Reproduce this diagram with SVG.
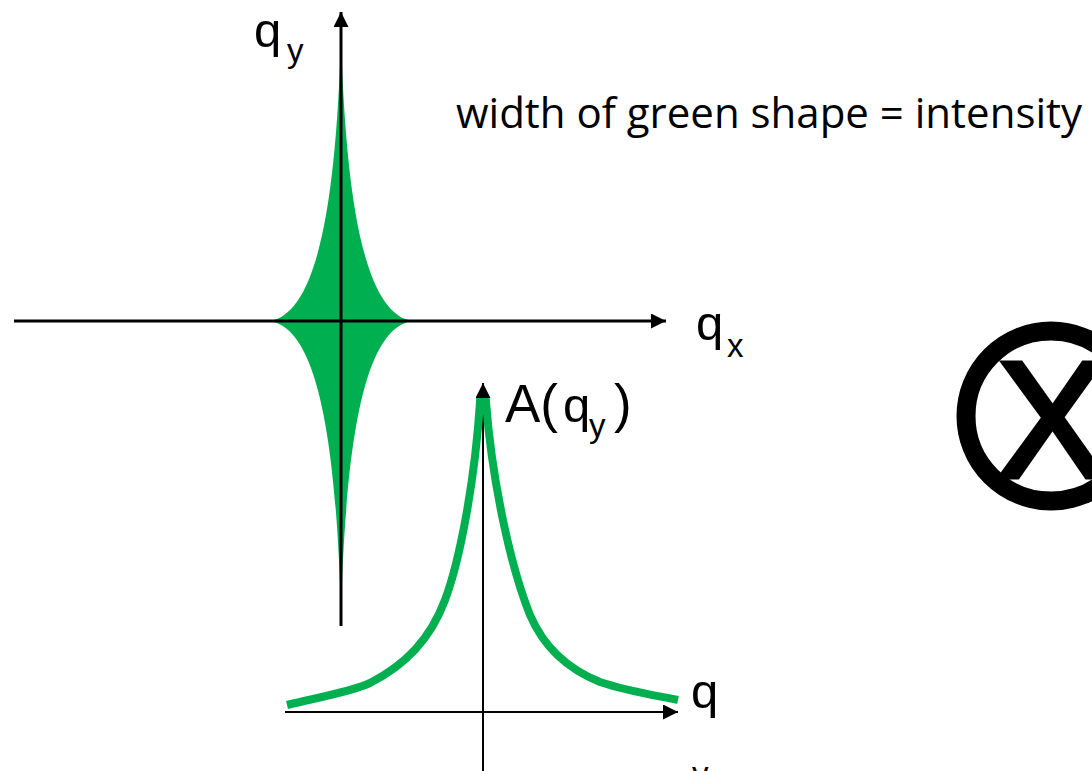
<svg xmlns="http://www.w3.org/2000/svg" width="1092" height="771" viewBox="0 0 1092 771">
<style>
.ax{stroke:#000;fill:none}
.lbl{font-family:"Liberation Sans",Arial,sans-serif;fill:#000}
</style>
<defs>
<marker id="ah" viewBox="0 0 10 10" refX="10" refY="5" markerWidth="5" markerHeight="5" orient="auto" markerUnits="strokeWidth">
<path d="M0,0 L10,5 L0,10 Z" fill="#000"/>
</marker>
<marker id="ah2" viewBox="0 0 10 10" refX="10" refY="5" markerWidth="7.5" markerHeight="7.5" orient="auto" markerUnits="strokeWidth">
<path d="M0,0 L10,5 L0,10 Z" fill="#000"/>
</marker>
</defs>
<g id="green-shape">
<path d="M341,38 C346,200 364,313 412,321 C364,329 346,440 341,612 C336,440 318,329 270,321 C318,313 336,200 341,38 Z" fill="#00b050"/>
</g>
<g id="connectors">
<line class="ax" x1="14" y1="321" x2="666" y2="321" stroke-width="3" marker-end="url(#ah)"/>
<line class="ax" x1="341" y1="626" x2="341" y2="12" stroke-width="3" marker-end="url(#ah)"/>
<line class="ax" x1="285" y1="712" x2="678" y2="712" stroke-width="2" marker-end="url(#ah2)"/>
<line class="ax" x1="483" y1="771" x2="483" y2="383" stroke-width="2" marker-end="url(#ah2)"/>
</g>
<g id="curve">
<path d="M287,705 C320,697 350,692 370,683 C405,665 430,640 445,600 C460,560 475,480 480,402 L486,402 C492,480 510,565 530,615 C545,650 570,670 600,682 C630,692 660,696 678,700" fill="none" stroke="#00b050" stroke-width="8"/>
</g>
<g id="label-qy">
<text class="lbl" x="254" y="47" font-size="49">q</text>
<text class="lbl" x="287" y="62" font-size="33">y</text>
</g>
<g id="label-qx">
<text class="lbl" x="696" y="340" font-size="49">q</text>
<text class="lbl" x="727" y="357" font-size="33">x</text>
</g>
<g id="label-A">
<text class="lbl" x="505" y="422" font-size="53">A(</text>
<text class="lbl" x="563" y="422" font-size="49">q</text>
<text class="lbl" x="589" y="437" font-size="33">y</text>
<text class="lbl" x="614" y="422" font-size="53">)</text>
</g>
<g id="label-q-lower">
<text class="lbl" x="691" y="708" font-size="49">q</text>
<text class="lbl" x="692" y="785" font-size="33">y</text>
</g>
<g id="caption">
<text x="456" y="128" font-family="'Open Sans','Liberation Sans',sans-serif" font-size="42" textLength="626" lengthAdjust="spacingAndGlyphs">width of green shape = intensity</text>
</g>
<g id="otimes">
<circle cx="1051" cy="416" r="85" fill="none" stroke="#000" stroke-width="19"/>
<text class="lbl" x="1052" y="477" font-size="166" text-anchor="middle" stroke="#000" stroke-width="5">X</text>
</g>
</svg>
